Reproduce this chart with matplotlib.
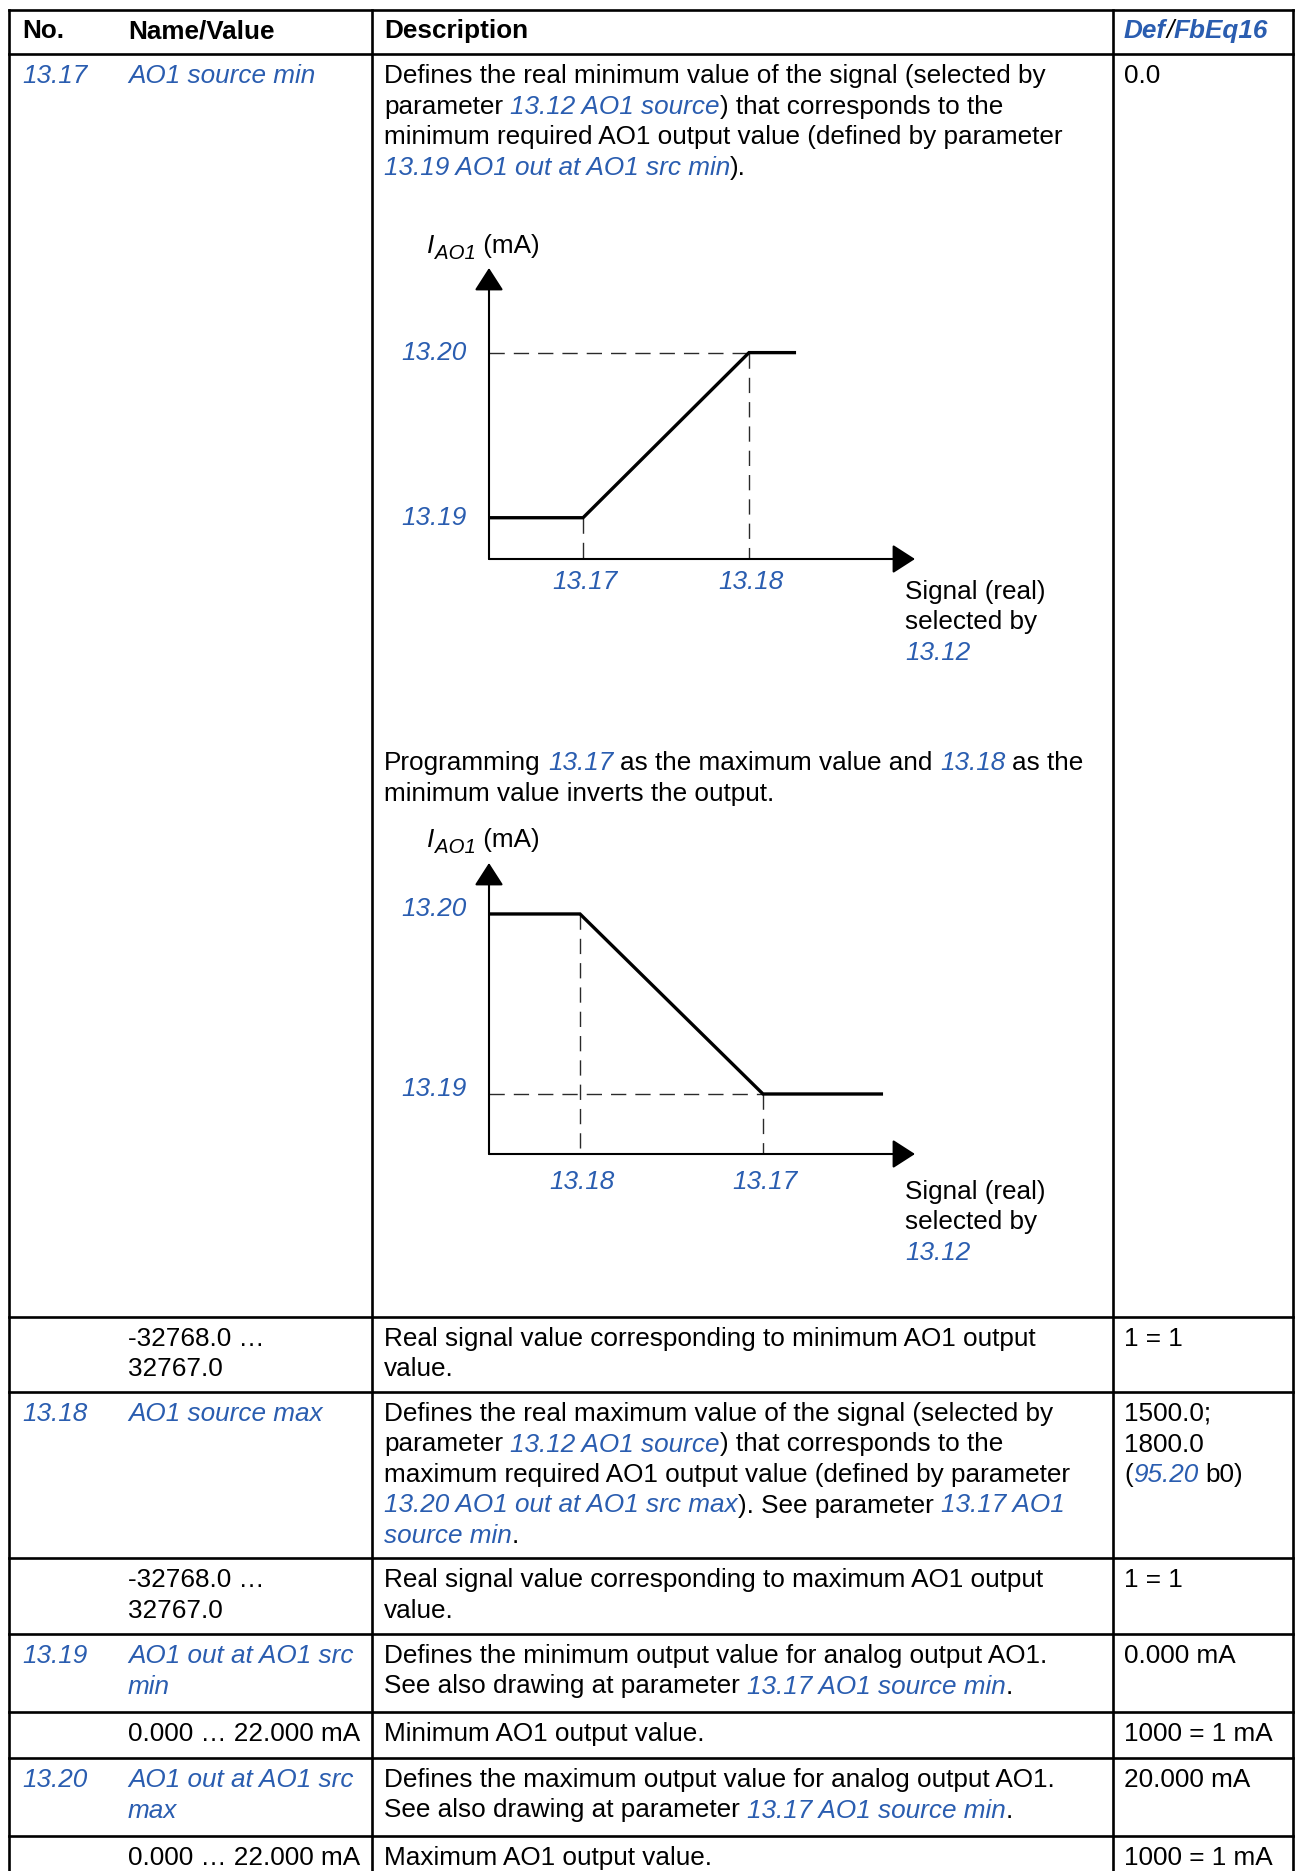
import matplotlib
matplotlib.use('Agg')
import matplotlib.pyplot as plt

# ---------------- data ----------------
header = ['No.', 'Name/Value', 'Description']
header_def = [('Def', True), ('/', False), ('FbEq16', True)]

param_numbers = ['13.17', '', '13.18', '', '13.19', '', '13.20', '']
name_lines = [['AO1 source min'],
              ['-32768.0 \u2026', '32767.0'],
              ['AO1 source max'],
              ['-32768.0 \u2026', '32767.0'],
              ['AO1 out at AO1 src', 'min'],
              ['0.000 \u2026 22.000 mA'],
              ['AO1 out at AO1 src', 'max'],
              ['0.000 \u2026 22.000 mA']]
# *...* marks italic blue links
desc_lines = [
    ['Defines the real minimum value of the signal (selected by',
     'parameter *13.12 AO1 source*) that corresponds to the',
     'minimum required AO1 output value (defined by parameter',
     '*13.19 AO1 out at AO1 src min*).'],
    ['Real signal value corresponding to minimum AO1 output', 'value.'],
    ['Defines the real maximum value of the signal (selected by',
     'parameter *13.12 AO1 source*) that corresponds to the',
     'maximum required AO1 output value (defined by parameter',
     '*13.20 AO1 out at AO1 src max*). See parameter *13.17 AO1*',
     '*source min*.'],
    ['Real signal value corresponding to maximum AO1 output', 'value.'],
    ['Defines the minimum output value for analog output AO1.',
     'See also drawing at parameter *13.17 AO1 source min*.'],
    ['Minimum AO1 output value.'],
    ['Defines the maximum output value for analog output AO1.',
     'See also drawing at parameter *13.17 AO1 source min*.'],
    ['Maximum AO1 output value.'],
]
def_lines = [['0.0'], ['1 = 1'], ['1500.0;', '1800.0', '(*95.20* b0)'], ['1 = 1'],
             ['0.000 mA'], ['1000 = 1 mA'], ['20.000 mA'], ['1000 = 1 mA']]

paragraph = ['Programming *13.17* as the maximum value and *13.18* as the',
             'minimum value inverts the output.']

# diagram data (signal in real units, output in mA)
level_labels = ['13.19', '13.20']
level_values = [4, 20]
d1_signal = [-850, 0, 1500, 1925]
d1_current = [4, 4, 20, 20]
d1_tick_labels = ['13.17', '13.18']
d1_tick_values = [0, 1500]
d2_signal = [-746, 0, 1500, 2484]
d2_current = [20, 20, 4, 4]
d2_tick_labels = ['13.18', '13.17']
d2_tick_values = [0, 1500]
y_label_parts = ['I', 'AO1', ' (mA)']
x_label_lines = ['Signal (real)', 'selected by', '*13.12*']

# ---------------- style ----------------
W, H = 1301, 1871
DPI = 100
FS = 18.8
BLUE = '#2a5db0'
LINE = 1.9
plt.rcParams['font.family'] = ['Liberation Sans', 'DejaVu Sans']

fig = plt.figure(figsize=(W / DPI, H / DPI), dpi=DPI)
fig.patch.set_facecolor('white')
ax = fig.add_axes([0, 0, 1, 1])
ax.set_xlim(0, W)
ax.set_ylim(H, 0)
ax.axis('off')
renderer = fig.canvas.get_renderer()


def twidth(s, fs=FS, **kw):
    t = ax.text(0, 0, s, fontsize=fs, **kw)
    w = t.get_window_extent(renderer).width
    t.remove()
    return w


SP = twidth('a a') - twidth('aa')


def draw_runs(x, y, runs, fs=FS, weight='normal'):
    for s, link in runs:
        kw = dict(color=BLUE, style='italic') if link else dict(color='black')
        lead = len(s) - len(s.lstrip(' '))
        trail = len(s) - len(s.rstrip(' '))
        core = s.strip(' ')
        x += lead * SP
        if core:
            t = ax.text(x, y, core, va='baseline', ha='left', fontsize=fs,
                        fontweight=weight, **kw)
            x += t.get_window_extent(renderer).width
        x += trail * SP
    return x


def parse(s):
    parts = s.split('*')
    return [(p, i % 2 == 1) for i, p in enumerate(parts) if p]


# ---------------- table grid ----------------
X_L, X_C1, X_C2, X_R = 9, 372, 1113, 1293
Y_TOP = 10
row_tops = [54, 1317, 1392, 1558, 1634, 1712, 1758, 1836]
for y in [Y_TOP] + row_tops:
    ax.plot([X_L, X_R], [y, y], color='black', lw=LINE, solid_capstyle='projecting')
for x in [X_L, X_C1, X_C2, X_R]:
    ax.plot([x, x], [Y_TOP, H + 5], color='black', lw=LINE)

X_NO, X_NAME, X_DESC, X_DEF = 22, 128, 384, 1124
LS = 30.5
BASE_OFF = 29

# header
hb = 38
for x, s in zip([X_NO, X_NAME, X_DESC], header):
    ax.text(x, hb, s, fontsize=FS, fontweight='bold', va='baseline')
xx = X_DEF
for s, link in header_def:
    t = ax.text(xx, hb, s, fontsize=FS, fontweight='bold' if link else 'normal',
                style='italic', color=BLUE if link else 'black', va='baseline')
    xx += t.get_window_extent(renderer).width

# rows
for i, top in enumerate(row_tops):
    b = top + BASE_OFF
    link = param_numbers[i] != ''
    if link:
        ax.text(X_NO, b, param_numbers[i], fontsize=FS, color=BLUE, style='italic', va='baseline')
    for k, s in enumerate(name_lines[i]):
        ax.text(X_NAME, b + k * LS, s, fontsize=FS, va='baseline',
                color=BLUE if link else 'black', style='italic' if link else 'normal')
    for k, s in enumerate(desc_lines[i]):
        draw_runs(X_DESC, b + k * LS, parse(s))
    for k, s in enumerate(def_lines[i]):
        draw_runs(X_DEF, b + k * LS, parse(s))

# paragraph between diagrams
for k, s in enumerate(paragraph):
    draw_runs(X_DESC, 770 + k * LS, parse(s))


# ---------------- diagrams ----------------
def diagram(rect_px, xlim, ylim, sig, cur, tick_labels, tick_values, dashed,
            lvl_dy, tick_dy, ylab_y, xlab_y):
    x0, x1, yb, yt = rect_px
    dax = fig.add_axes([x0 / W, 1 - yb / H, (x1 - x0) / W, (yb - yt) / H])
    dax.set_xlim(*xlim)
    dax.set_ylim(*ylim)
    dax.axis('off')
    dax.patch.set_alpha(0)
    hs = 'head_length=0.7,head_width=0.45'
    for end in [(1, 0), (0, 1)]:
        dax.annotate('', xy=end, xytext=(0, 0), xycoords='axes fraction',
                     arrowprops=dict(arrowstyle='-|>,' + hs, mutation_scale=20,
                                     lw=1.5, color='black', shrinkA=0, shrinkB=0))
    for (xs, ys) in dashed:
        dax.plot(xs, ys, color='#2a2a2a', lw=1.0, dashes=(11, 6.5), clip_on=False)
    dax.plot(sig, cur, color='black', lw=2.4, solid_capstyle='butt',
             solid_joinstyle='miter', clip_on=False)
    for lab, v in zip(level_labels, level_values):
        dax.annotate(lab, xy=(xlim[0], v), xytext=(-22, lvl_dy - 9),
                     textcoords='offset pixels', ha='right', va='baseline',
                     fontsize=FS, color=BLUE, style='italic')
    for lab, v in zip(tick_labels, tick_values):
        dax.annotate(lab, xy=(v, ylim[0]), xytext=(2, -tick_dy - 9),
                     textcoords='offset pixels', ha='center', va='baseline',
                     fontsize=FS, color=BLUE, style='italic')
    # axis titles
    t = ax.text(427, ylab_y + 9, y_label_parts[0], fontsize=FS, style='italic', va='baseline')
    xx = 427 + t.get_window_extent(renderer).width + 1
    t2 = ax.text(xx, ylab_y + 15, y_label_parts[1], fontsize=FS * 0.78, style='italic',
                 va='baseline')
    xx += t2.get_window_extent(renderer).width
    ax.text(xx, ylab_y + 9, y_label_parts[2], fontsize=FS, va='baseline')
    for k, s in enumerate(x_label_lines):
        draw_runs(905, xlab_y + 9 + k * LS, parse(s))


d1_dashed = [([-850, 1500], [20, 20]), ([1500, 1500], [20, 0]), ([0, 0], [4, 0])]
diagram((489, 915, 559, 268), (-850, 3000), (0, 28.2), d1_signal, d1_current,
        d1_tick_labels, d1_tick_values, d1_dashed, lvl_dy=2, tick_dy=21,
        ylab_y=244, xlab_y=590)

d2_dashed = [([-746, 1500], [4, 4]), ([0, 0], [20, -1.333]), ([1500, 1500], [4, -1.333])]
diagram((489, 915, 1154, 863), (-746, 2746), (-1.333, 24.53), d2_signal, d2_current,
        d2_tick_labels, d2_tick_values, d2_dashed, lvl_dy=7, tick_dy=26,
        ylab_y=838, xlab_y=1190)

fig.savefig('out.png', dpi=DPI, facecolor='white')
